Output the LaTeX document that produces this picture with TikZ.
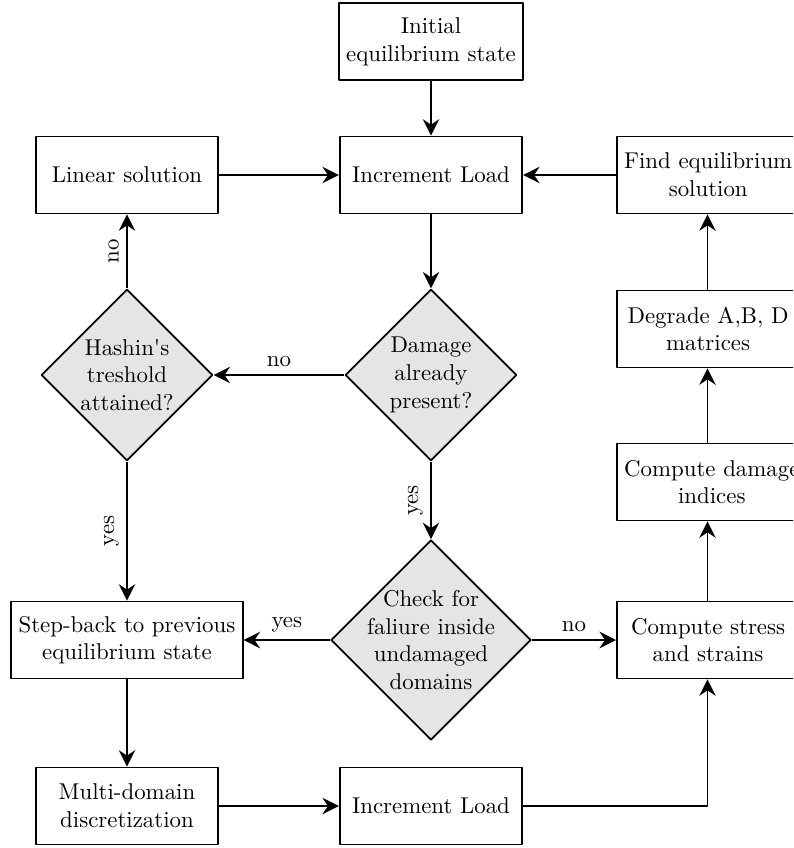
\documentclass[tikz,border=0pt]{standalone}
\usetikzlibrary{shapes.geometric,arrows.meta}
\begin{document}
\begin{tikzpicture}[x=0.455pt, y=-0.455pt, line join=round, thick,
		font=\fontsize{10.4}{12.6}\selectfont,
		>={Stealth[length=7.5pt,width=7.5pt,inset=2.5pt]},
		box/.style={draw, fill=white, align=center, minimum width=83pt, minimum height=35pt},
		rbox/.style={box, anchor=west},
		test/.style={draw, diamond, fill=gray!20, align=center, inner sep=-20pt, aspect=1}]
	\clip (0,0) rectangle (793,848);
	\coordinate (col) at (707.5,0);
	% boxes
	\node[box] (init) at (431,41.5) {Initial\\equilibrium state};
	\node[box] (inc1) at (431,175) {Increment Load};
	\node[box] (lin) at (127,175) {Linear solution};
	\node[rbox] (find) at (616,175) {Find equilibrium\\solution};
	\node[rbox] (degr) at (616,329) {Degrade A,B, D\\matrices};
	\node[rbox] (indx) at (616,482) {Compute damage\\indices};
	\node[rbox] (strs) at (616,640) {Compute stress\\and strains};
	\node[box] (back) at (127,640) {Step-back to previous\\equilibrium state};
	\node[box] (mult) at (127,806) {Multi-domain\\discretization};
	\node[box] (inc2) at (431,806) {Increment Load};
	% tests
	\node[test, minimum size=78pt] (dmg) at (431,375) {Damage\\already\\present?};
	\node[test, minimum size=78pt] (hash) at (127,375) {Hashin\textquotesingle s\\treshold\\attained?};
	\node[test, minimum size=91pt] (chk) at (431,640) {Check for\\faliure inside\\undamaged\\domains};
	% plain arrows
	\foreach \a/\b in {init/inc1, lin/inc1, find/inc1, inc1/dmg, back/mult, mult/inc2}{
		\draw[->] (\a) -- (\b);
	}
	\foreach \a/\b in {strs/indx, indx/degr, degr/find}{
		\draw[->] (\a.north -| col) -- (\b.south -| col);
	}
	\draw[->] (inc2) -| (strs.south -| col);
	% labelled arrows
	\draw[->] (dmg) -- node[above]{no} (hash);
	\draw[->] (hash) -- node[rotate=90, anchor=south]{no} (lin);
	\draw[->] (hash) -- node[rotate=90, anchor=south]{yes} (back);
	\draw[->] (dmg) -- node[rotate=90, anchor=south]{yes} (chk);
	\draw[->] (chk) -- node[above]{yes} (back);
	\draw[->] (chk) -- node[above]{no} (strs);
\end{tikzpicture}
\end{document}
